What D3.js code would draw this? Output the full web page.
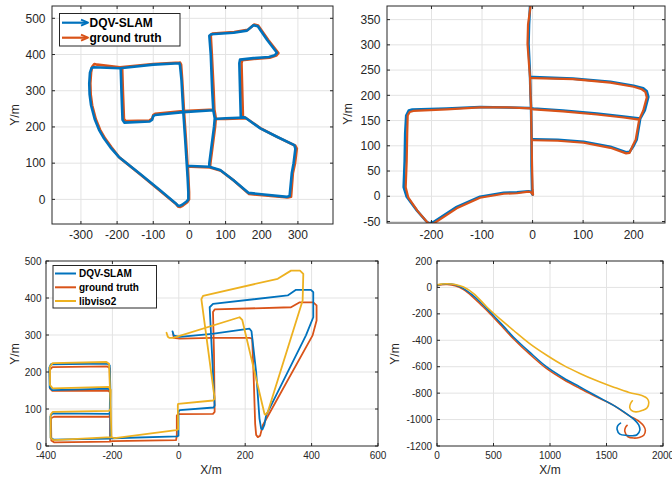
<!DOCTYPE html>
<html lang="en">
<head>
<meta charset="UTF-8">
<title>Trajectories</title>
<style>
  body { margin: 0; background: #fff; }
  svg { font-family: "Liberation Sans", Arial, sans-serif; }
  .tick-label { fill: #262626; }
  .axis-label { fill: #262626; }
</style>
</head>
<body>
<div id="chart"></div>
<script src="https://cdn.jsdelivr.net/npm/d3@7"></script>
<script>
// colours of the three methods
var slamColor = "#0072BD", gtColor = "#D95319", visoColor = "#EDB120";

// ---- panel 1 (top left) : null breaks one stretch of road from the next
var p1Slam = [
  [-28,376],[-100,372],[-192,362],[-265,365],[-271,362],[-275,350],[-277,320],[-276,290],[-272,260],[-262,222],
  [-250,192],[-236,168],[-218,143],[-196,118],[-136,70],[-81,25],[-40,-9],[-32,-17],[-27,-18],[-20,-15],[-8,-6],
  [-3,0],[-3,20],[-5,60],[-7,92],[-12,170],[-17,242],[-22,330],[-26,370],[-28,376],
  null,
  [-190,362],[-188,300],[-185,220],[-180,212],[-110,215],[-103,220],[-100,230],[-95,233],[-17,241],[66,246],
  [63,300],[59,400],[55,452],[60,456],[122,460],[159,466],[177,481],[189,478],[215,440],[242,405],[236,398],
  [220,393],[177,390],[140,386],[138,376],[140,300],[142,228],[154,226],[196,196],[242,173],[290,150],[293,140],
  [288,100],[283,72],[277,9],[270,7],[163,18],[122,53],[85,81],[55,90],[5,92],[-7,92],
  null,
  [66,246],[70,224],[68,200],[55,100],[55,90],
  null,
  [70,222],[100,224],[154,226]
];
var p1Gt = [
  [-26,378],[-100,374],[-192,365],[-255,372],[-263,374],[-269,366],[-272,350],[-274,320],[-273,290],[-269,260],
  [-259,222],[-247,192],[-233,168],[-215,143],[-194,116],[-134,67],[-79,22],[-38,-12],[-31,-20],[-25,-21],
  [-18,-17],[-6,-8],[-1,0],[-1,20],[-3,60],[-5,92],[-10,170],[-15,244],[-20,330],[-23,372],[-26,378],
  null,
  [-186,364],[-184,300],[-181,222],[-176,216],[-110,218],[-103,223],[-100,233],[-95,236],[-17,244],[69,248],
  [67,300],[62,400],[59,453],[64,458],[124,462],[161,468],[179,483],[190,480],[218,440],[246,404],[240,397],
  [222,391],[177,388],[146,384],[144,376],[146,300],[148,228],[157,224],[199,195],[245,171],[293,148],[297,140],
  [292,100],[286,72],[281,7],[272,5],[165,15],[124,51],[87,79],[57,88],[5,90],[-5,90],
  null,
  [69,248],[73,224],[71,200],[58,100],[57,88],
  null,
  [73,222],[100,222],[157,224]
];

// ---- panel 2 (top right)
var p2Slam = [
  [-5,376],[-7,340],[-8,302],[-6,260],[-5,237],[-4,200],[-3,176],[-2,113],[-2,60],[-1,13],[0,3],[-3,9],[-8,10],
  [-31,8],[-57,7],[-104,-1],[-150,-21],[-196,-51],[-204,-54],[-210,-50],[-229,-28],[-249,-1],[-255,18],[-253,70],
  [-252,124],[-250,160],[-245,170],[-238,172],[-170,174],[-104,177],[-50,176],[-5,175],[2,174],[60,170],[127,164],
  [180,158],[213,154],[222,170],[229,197],[226,208],[219,214],[200,219],[154,227],[80,233],[2,236],[-3,236],
  null,
  [-2,113],[2,113],[50,112],[101,108],[154,98],[185,87],[192,88],[200,100],[206,112],[213,154]
];
var p2Gt = [
  [-4,377],[-9,340],[-10,302],[-7,260],[-5,236],[-4,200],[-3,176],[-2,113],[-1,60],[0,13],[1,3],[-3,8],[-8,9],
  [-31,6],[-57,5],[-104,-3],[-150,-24],[-194,-53],[-200,-56],[-207,-53],[-227,-30],[-246,-2],[-251,18],[-249,70],
  [-248,124],[-247,160],[-243,167],[-236,169],[-170,172],[-104,176],[-50,176],[-5,174],[2,172],[60,168],[127,162],
  [180,156],[211,152],[219,170],[226,196],[223,207],[216,212],[200,217],[154,225],[80,232],[2,234],[-3,234],
  null,
  [-2,111],[2,111],[50,110],[101,106],[154,96],[185,85],[192,86],[198,100],[204,112],[211,152]
];

// ---- panel 3 (bottom left)
var p3Gt = [
  [-17,304],[-15,292],[3,290],[100,292],[213,292],[221,290],[225,200],[230,60],[233,30],[238,24],[245,28],[253,56],
  [403,299],[415,339],[415,380],[405,388],[363,388],[338,375],[108,369],[103,362],[106,250],[108,92],[103,87],
  [-2,86],[-6,82],[-6,30],[-8,16],[-200,13],[-208,12],[-376,10],[-384,15],[-385,75],[-376,79],[-210,79],[-207,85],
  [-207,145],[-213,150],[-381,149],[-388,155],[-389,205],[-381,213],[-215,215],[-208,210],[-207,85],[-207,12]
];
var p3Slam = [
  [-19,310],[-15,298],[3,295],[100,303],[213,317],[219,310],[233,200],[243,74],[248,47],[252,45],[258,58],[263,83],
  [383,299],[405,348],[405,416],[398,422],[353,422],[328,407],[103,384],[93,375],[100,250],[108,110],[105,104],
  [3,97],[-1,93],[-1,28],[-5,26],[-198,21],[-206,20],[-376,17],[-386,22],[-387,80],[-381,88],[-210,87],[-208,90],
  [-207,150],[-212,155],[-381,151],[-389,158],[-390,212],[-385,221],[-215,223],[-208,218],[-206,150],[-206,22]
];
var p3Viso = [
  [-37,306],[-33,295],[-28,292],[-17,292],[183,348],[191,341],[258,87],[261,84],[268,92],[373,393],[375,465],
  [365,474],[338,474],[298,452],[73,406],[68,397],[108,128],[103,123],[-2,114],[-3,110],[-2,45],[-8,43],[-193,21],
  [-203,24],[-378,16],[-386,22],[-386,85],[-380,92],[-210,95],[-206,100],[-205,152],[-212,160],[-380,156],
  [-388,165],[-388,215],[-380,224],[-218,227],[-210,222],[-205,100],[-203,25]
];

// ---- panel 4 (bottom right)
var p4Gt = [
  [0,12],[40,20],[90,22],[160,12],[235,-17],[320,-75],[400,-140],[471,-200],[570,-290],[676,-388],[820,-505],
  [971,-615],[1120,-697],[1265,-765],[1410,-828],[1559,-891],[1700,-970],[1794,-1017],[1830,-1050],[1844,-1082],
  [1830,-1118],[1790,-1135],[1741,-1140],[1690,-1130],[1662,-1090],[1668,-1060],[1682,-1044]
];
var p4Slam = [
  [0,15],[30,22],[88,28],[160,20],[235,-9],[310,-55],[382,-110],[440,-160],[500,-212],[590,-295],[676,-375],
  [820,-490],[971,-602],[1120,-685],[1265,-753],[1410,-822],[1559,-891],[1660,-945],[1750,-1004],[1785,-1040],
  [1795,-1080],[1770,-1115],[1735,-1122],[1682,-1120],[1618,-1110],[1594,-1075],[1600,-1045],[1624,-1027]
];
var p4Viso = [
  [0,20],[40,25],[90,28],[160,22],[235,3],[330,-50],[441,-148],[560,-240],[676,-324],[820,-425],[971,-513],
  [1120,-590],[1265,-651],[1410,-705],[1559,-753],[1700,-795],[1823,-821],[1860,-840],[1874,-868],[1860,-910],
  [1820,-930],[1760,-942],[1720,-930],[1706,-910],[1712,-880],[1729,-858]
];

// tick values
var p1XTicks = [-300,-200,-100,0,100,200,300], p1YTicks = [0,100,200,300,400,500];
var p2XTicks = [-200,-100,0,100,200], p2YTicks = [-50,0,50,100,150,200,250,300,350];
var p3XTicks = [-400,-200,0,200,400,600], p3YTicks = [0,100,200,300,400,500];
var p4XTicks = [0,500,1000,1500,2000], p4YTicks = [-1200,-1000,-800,-600,-400,-200,0,200];

var panels = [
  { box: [52, 6, 333, 224], xDomain: [-380, 397], yDomain: [-68, 534], xTicks: p1XTicks, yTicks: p1YTicks,
    font: 12, xTickGap: 15, yTickGap: 6.5, yLabelPos: [15, 115], xLabelPos: null, smooth: false,
    series: [ { data: p1Gt, color: gtColor, width: 2.6 }, { data: p1Slam, color: slamColor, width: 2.6 } ] },
  { box: [387, 6, 665, 223], xDomain: [-288, 262], yDomain: [-53, 377], xTicks: p2XTicks, yTicks: p2YTicks,
    font: 12, xTickGap: 16, yTickGap: 6.5, yLabelPos: [348, 114], xLabelPos: null, smooth: false,
    series: [ { data: p2Slam, color: slamColor, width: 2.6 }, { data: p2Gt, color: gtColor, width: 2.2 } ] },
  { box: [46, 261, 378, 446], xDomain: [-400, 600], yDomain: [0, 500], xTicks: p3XTicks, yTicks: p3YTicks,
    font: 10, xTickGap: 12.5, yTickGap: 4.5, yLabelPos: [15, 354], xLabelPos: [211, 474], smooth: false,
    series: [ { data: p3Gt, color: gtColor, width: 1.8 }, { data: p3Slam, color: slamColor, width: 1.8 },
              { data: p3Viso, color: visoColor, width: 1.8 } ] },
  { box: [437, 261, 663, 446], xDomain: [0, 2000], yDomain: [-1200, 200], xTicks: p4XTicks, yTicks: p4YTicks,
    font: 10, xTickGap: 12.5, yTickGap: 5, yLabelPos: [395, 354], xLabelPos: [550, 474], smooth: true,
    series: [ { data: p4Gt, color: gtColor, width: 1.6 }, { data: p4Slam, color: slamColor, width: 1.6 },
              { data: p4Viso, color: visoColor, width: 1.6 } ] }
];

var svg = d3.select("#chart").append("svg")
  .attr("width", 672).attr("height", 479);

panels.forEach(function (p, i) {
  var x0 = p.box[0], y0 = p.box[1], x1 = p.box[2], y1 = p.box[3];
  var x = d3.scaleLinear().domain(p.xDomain).range([x0, x1]);
  var y = d3.scaleLinear().domain(p.yDomain).range([y1, y0]);
  var g = svg.append("g");

  g.append("rect").attr("x", x0).attr("y", y0).attr("width", x1 - x0).attr("height", y1 - y0).attr("fill", "#fff");

  // grid
  g.selectAll(".gx").data(p.xTicks.filter(function (t) { return x(t) > x0 + 1 && x(t) < x1 - 1; }))
    .enter().append("line")
    .attr("x1", function (d) { return x(d); }).attr("x2", function (d) { return x(d); })
    .attr("y1", y0).attr("y2", y1).attr("stroke", "#e3e3e3").attr("stroke-width", 1);
  g.selectAll(".gy").data(p.yTicks.filter(function (t) { return y(t) > y0 + 1 && y(t) < y1 - 1; }))
    .enter().append("line")
    .attr("y1", function (d) { return y(d); }).attr("y2", function (d) { return y(d); })
    .attr("x1", x0).attr("x2", x1).attr("stroke", "#e3e3e3").attr("stroke-width", 1);

  // trajectories (only the long smooth drive of panel 4 gets a spline)
  svg.append("clipPath").attr("id", "clip" + i).append("rect")
    .attr("x", x0).attr("y", y0).attr("width", x1 - x0).attr("height", y1 - y0);
  var line = d3.line().defined(function (d) { return d !== null; })
    .x(function (d) { return x(d[0]); }).y(function (d) { return y(d[1]); })
    .curve(p.smooth ? d3.curveCatmullRom.alpha(0.5) : d3.curveLinear);
  var traces = g.append("g").attr("clip-path", "url(#clip" + i + ")");
  p.series.forEach(function (s) {
    traces.append("path").attr("d", line(s.data)).attr("fill", "none")
      .attr("stroke", s.color).attr("stroke-width", s.width)
      .attr("stroke-linejoin", "round").attr("stroke-linecap", "round");
  });

  // frame and inward ticks on all four sides
  g.append("rect").attr("x", x0).attr("y", y0).attr("width", x1 - x0).attr("height", y1 - y0)
    .attr("fill", "none").attr("stroke", "#262626").attr("stroke-width", 1);
  var tl = 3;
  p.xTicks.forEach(function (t) {
    g.append("line").attr("x1", x(t)).attr("x2", x(t)).attr("y1", y1).attr("y2", y1 - tl).attr("stroke", "#262626");
    g.append("line").attr("x1", x(t)).attr("x2", x(t)).attr("y1", y0).attr("y2", y0 + tl).attr("stroke", "#262626");
    g.append("text").attr("class", "tick-label").attr("x", x(t)).attr("y", y1 + p.xTickGap)
      .attr("text-anchor", "middle").attr("font-size", p.font).text(String(t));
  });
  p.yTicks.forEach(function (t) {
    g.append("line").attr("y1", y(t)).attr("y2", y(t)).attr("x1", x0).attr("x2", x0 + tl).attr("stroke", "#262626");
    g.append("line").attr("y1", y(t)).attr("y2", y(t)).attr("x1", x1).attr("x2", x1 - tl).attr("stroke", "#262626");
    g.append("text").attr("class", "tick-label").attr("x", x0 - p.yTickGap).attr("y", y(t)).attr("dy", "0.35em")
      .attr("text-anchor", "end").attr("font-size", p.font).text(String(t));
  });

  g.append("text").attr("class", "axis-label").attr("font-size", 12).attr("text-anchor", "middle")
    .attr("transform", "translate(" + p.yLabelPos[0] + "," + p.yLabelPos[1] + ") rotate(-90)")
    .attr("dy", "0.35em").text("Y/m");
  if (p.xLabelPos) {
    g.append("text").attr("class", "axis-label").attr("font-size", 12).attr("text-anchor", "middle")
      .attr("x", p.xLabelPos[0]).attr("y", p.xLabelPos[1]).text("X/m");
  }
});

// legend of panel 1 (quiver style arrows)
var leg1 = svg.append("g");
leg1.append("rect").attr("x", 59.5).attr("y", 13.5).attr("width", 120.5).attr("height", 32.5)
  .attr("fill", "#fff").attr("stroke", "#262626").attr("stroke-width", 1);
[["DQV-SLAM", slamColor, 22.7], ["ground truth", gtColor, 37.7]].forEach(function (e) {
  leg1.append("line").attr("x1", 62).attr("x2", 87).attr("y1", e[2]).attr("y2", e[2])
    .attr("stroke", e[1]).attr("stroke-width", 2.2);
  leg1.append("path").attr("d", "M81," + (e[2] - 3) + "L88," + e[2] + "L81," + (e[2] + 3))
    .attr("fill", "none").attr("stroke", e[1]).attr("stroke-width", 2).attr("stroke-linejoin", "round");
  leg1.append("text").attr("x", 89.5).attr("y", e[2] + 4.3).attr("font-size", 12).attr("font-weight", "bold")
    .attr("fill", "#000").text(e[0]);
});

// legend of panel 3
var leg3 = svg.append("g");
leg3.append("rect").attr("x", 53).attr("y", 265.5).attr("width", 103.5).attr("height", 42.5)
  .attr("fill", "#fff").attr("stroke", "#262626").attr("stroke-width", 1);
[["DQV-SLAM", slamColor, 273.5], ["ground truth", gtColor, 287.3], ["libviso2", visoColor, 301]].forEach(function (e) {
  leg3.append("line").attr("x1", 55).attr("x2", 76).attr("y1", e[2]).attr("y2", e[2])
    .attr("stroke", e[1]).attr("stroke-width", 2);
  leg3.append("text").attr("x", 79).attr("y", e[2] + 3.6).attr("font-size", 10).attr("font-weight", "bold")
    .attr("fill", "#000").text(e[0]);
});
</script>
</body>
</html>
